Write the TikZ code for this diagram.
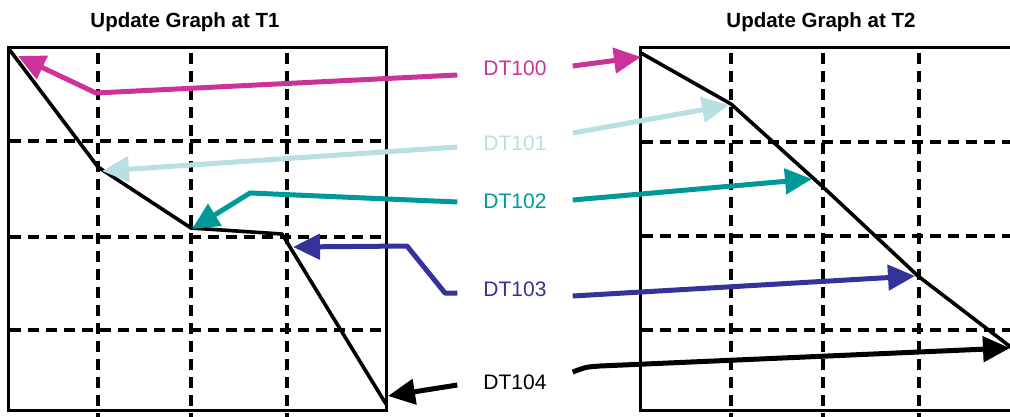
\documentclass[tikz,border=0pt]{standalone}
\usepackage{fontspec}
\setmainfont{Liberation Sans}
\usetikzlibrary{arrows.meta,calc}
\definecolor{cA}{HTML}{CC3399}
\definecolor{cB}{HTML}{B8DFE2}
\definecolor{cC}{HTML}{009999}
\definecolor{cD}{HTML}{333399}
\begin{document}
\begin{tikzpicture}[x=1pt,y=-1pt,
  gridline/.style={line width=3.5pt,dash pattern=on 10.5pt off 7.5pt},
  frame/.style={line width=3pt},
  curve/.style={line width=3.6pt,line join=round},
  arr/.style={line width=5pt,line join=round,-{Triangle[length=27pt,width=25pt]}},
  lbl/.style={font=\fontsize{21}{25}\selectfont,inner xsep=26pt,inner ysep=0pt},
  ttl/.style={font=\bfseries\fontsize{20.5}{24}\selectfont}]
\clip (0,0) rectangle (1010,416);
\fill[white] (0,0) rectangle (1010,416);
% titles
\node[ttl] (t1) at (185,22) {Update Graph at T1};
\node[ttl] (t2) at (821,22) {Update Graph at T2};
% left grid
\foreach \x in {98,191,287} \draw[gridline] (\x,53) -- (\x,420);
\foreach \y in {141,237,330} \draw[gridline] (10,\y) -- (386,\y);
\draw[frame] (8,47) rectangle (386,410);
% right grid
\foreach \x in {731,823,919} \draw[gridline] (\x,53) -- (\x,420);
\foreach \y in {142,236,330} \draw[gridline] (642,\y) -- (1015,\y);
\draw[frame] (640,47) rectangle (1020,410);
% curve points
\coordinate (a1) at (9,49);
\coordinate (a2) at (98,167);
\coordinate (a3) at (191,228);
\coordinate (a4) at (282,234);
\coordinate (a5) at (386,404);
\coordinate (b1) at (641,53);
\coordinate (b2) at (731,104);
\coordinate (b3) at (823,187);
\coordinate (b4) at (918,276);
\coordinate (b5) at (1012,348);
\draw[curve] (a1) -- (a2) -- (a3) -- (a4) -- (a5);
\draw[curve] (b1) -- (b2) -- (b3) -- (b4) -- (b5);
% labels
\node[lbl,text=cA] (l100) at (515,68) {DT100};
\node[lbl,text=cB] (l101) at (515,143) {DT101};
\node[lbl,text=cC] (l102) at (515,201) {DT102};
\node[lbl,text=cD] (l103) at (515,289) {DT103};
\node[lbl,text=black] (l104) at (515,382) {DT104};
% arrow helper coordinates
\coordinate (m100) at (96,93);
\coordinate (e100) at (18,56);
\coordinate (f100) at (641,57);
\coordinate (e101) at (102,171);
\coordinate (f101) at (729,105);
\coordinate (m102) at (250,193);
\coordinate (e102) at (192,229);
\coordinate (f102) at (812,179);
\coordinate (m103a) at (445,293);
\coordinate (m103b) at (407,246);
\coordinate (e103) at (293,247);
\coordinate (f103) at (915,276);
\coordinate (e104) at (388,396);
\coordinate (g104) at (600,366);
\coordinate (f104) at (1010,348);
% arrows
\draw[arr,cA] ([yshift=-7pt]l100.west) -- (m100) -- (e100);
\draw[arr,cA] ([yshift=2pt]l100.east) -- (f100);
\draw[arr,cB] ([yshift=-4pt]l101.west) -- (e101);
\draw[arr,cB] ([yshift=10pt]l101.east) -- (f101);
\draw[arr,cC] ([yshift=-1pt]l102.west) -- (m102) -- (e102);
\draw[arr,cC] ([yshift=1pt]l102.east) -- (f102);
\draw[arr,cD] ([yshift=-4pt]l103.west) -- (m103a) -- (m103b) -- (e103);
\draw[arr,cD] ([yshift=-7pt]l103.east) -- (f103);
\draw[arr,black] ([yshift=-3pt]l104.west) -- (e104);
\draw[arr,black] ([yshift=10pt]l104.east) .. controls (586,367) .. (g104) -- (f104);
\end{tikzpicture}
\end{document}
